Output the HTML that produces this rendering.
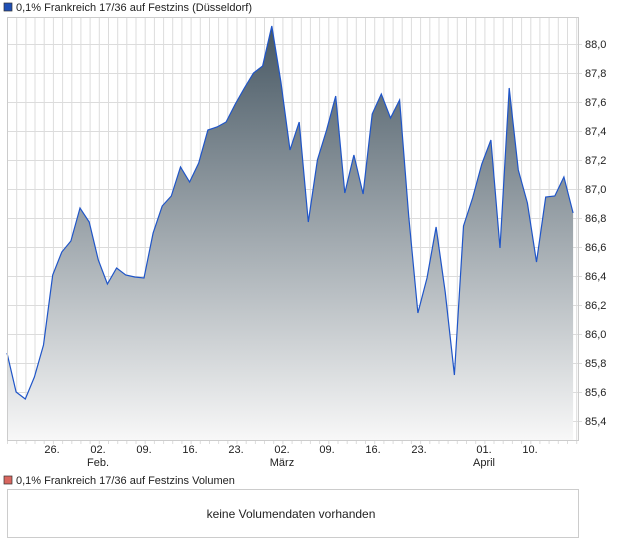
<!DOCTYPE html>
<html><head><meta charset="utf-8"><style>
body{margin:0;background:#fff;width:620px;height:546px;overflow:hidden;font-family:"Liberation Sans",sans-serif}
</style></head><body>
<svg width="620" height="546" xmlns="http://www.w3.org/2000/svg" font-family="Liberation Sans, sans-serif" font-size="11">
<defs><linearGradient id="g" x1="0" y1="18" x2="0" y2="441" gradientUnits="userSpaceOnUse">
<stop offset="0" stop-color="#435460"/><stop offset="1" stop-color="#f8f8f8"/></linearGradient></defs>
<rect x="4" y="3" width="8" height="8" fill="#1f4fb4" stroke="#333" stroke-width="0.7"/>
<text x="16" y="11" fill="#222">0,1% Frankreich 17/36 auf Festzins (Düsseldorf)</text>
<g id="grid" stroke="#dcdcdc" stroke-width="1"></g>
<path id="area" fill="url(#g)"/>
<path id="line" fill="none" stroke="#1f55c8" stroke-width="1.2"/>
<rect x="7.5" y="17.5" width="571" height="423" fill="none" stroke="#ccc"/>
<g fill="#222" id="yl"></g>
<g fill="#222" text-anchor="middle">
<text x="52" y="453">26.</text><text x="98" y="453">02.</text><text x="98" y="466">Feb.</text>
<text x="144" y="453">09.</text><text x="190" y="453">16.</text><text x="236" y="453">23.</text>
<text x="282" y="453">02.</text><text x="282" y="466">März</text><text x="327" y="453">09.</text>
<text x="373" y="453">16.</text><text x="419" y="453">23.</text><text x="484" y="453">01.</text>
<text x="484" y="466">April</text><text x="530" y="453">10.</text></g>
<rect x="4" y="476" width="8" height="8" fill="#d9665f" stroke="#333" stroke-width="0.7"/>
<text x="16" y="484" fill="#222">0,1% Frankreich 17/36 auf Festzins Volumen</text>
<rect x="7.5" y="489.5" width="571" height="48" fill="none" stroke="#ccc"/>
<text x="291" y="518" text-anchor="middle" font-size="12" fill="#222">keine Volumendaten vorhanden</text>
</svg>
<script>
var ys=[353,392,399,377,345,275,252,241,208,222,260,284,268,275,277,278,233,206,196,167,182,163,130,127,122,104,88,73,66,26,82,150,122,222,160,130,96,193,155,194,114,94,118,100,216,313,278,227,292,375,226,198,164,140,248,88,170,203,262,197,196,177,213];
var pts=ys.map(function(y,i){return [7+i*9.13,y]});
var d=pts.map(function(p,i){return (i?'L':'M')+p[0].toFixed(1)+','+p[1]}).join('');
document.getElementById('line').setAttribute('d',d);
document.getElementById('area').setAttribute('d',d+'L'+pts[pts.length-1][0].toFixed(1)+',441L7,441Z');
var g=document.getElementById('grid'),s='';
for(var x=7.5;x<578;x+=9.18)s+='<line x1="'+x.toFixed(1)+'" y1="18" x2="'+x.toFixed(1)+'" y2="444"/>';
for(var k=0;k<14;k++){var y=44.5+29*k;s+='<line x1="8" y1="'+y+'" x2="582" y2="'+y+'"/>';}
g.innerHTML=s;
var yl='';for(var k=0;k<14;k++){var v=(88-0.2*k).toFixed(1).replace('.',',');yl+='<text x="585" y="'+(48+29*k)+'">'+v+'</text>';}
document.getElementById('yl').innerHTML=yl;
</script>
</body></html>
